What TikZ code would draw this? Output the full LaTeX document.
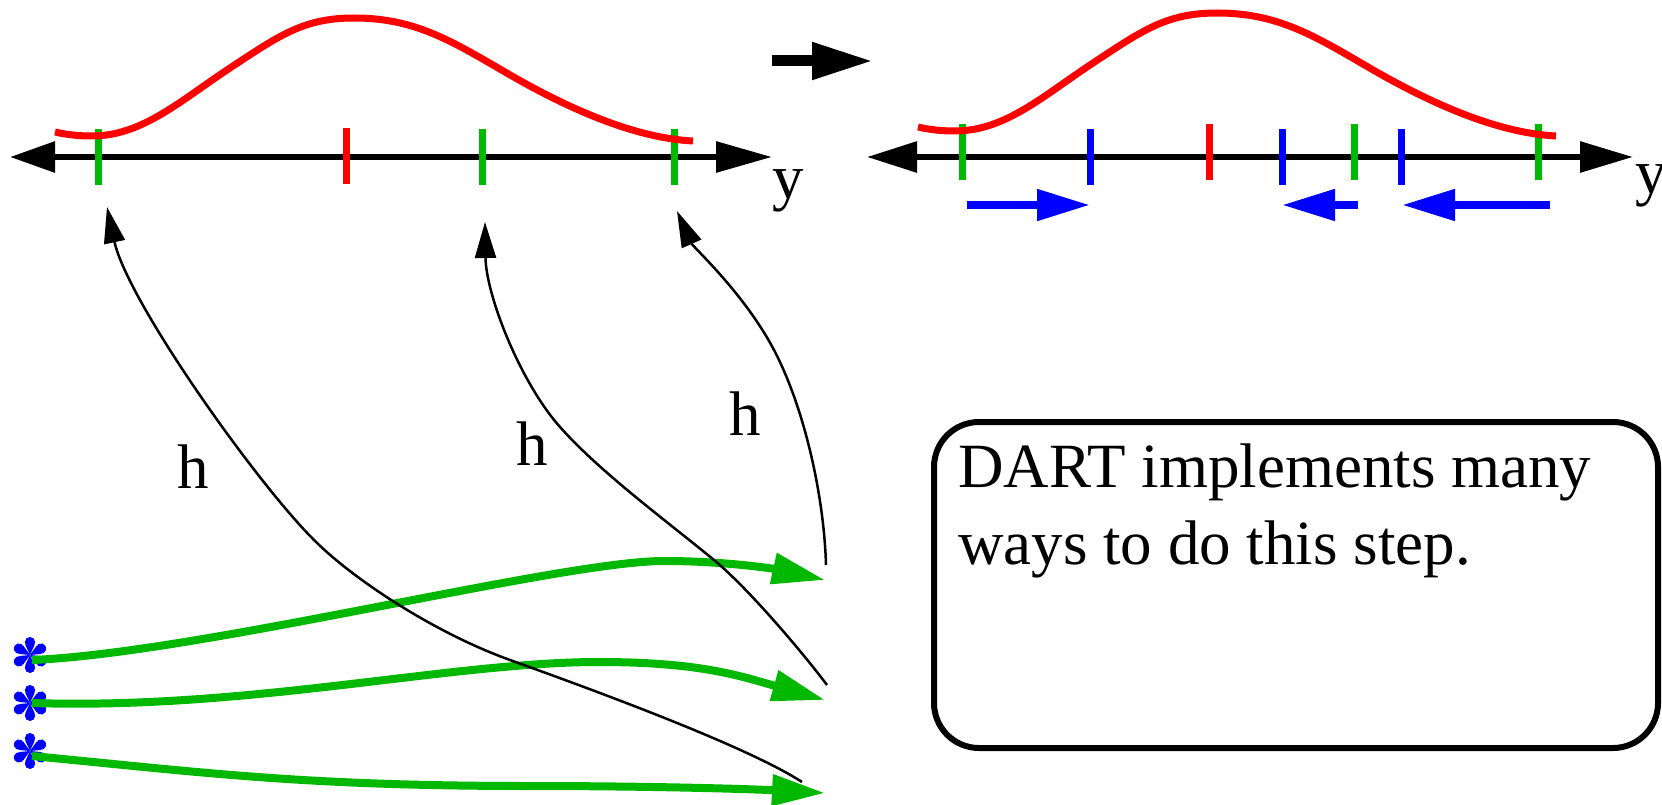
\documentclass[tikz,border=0pt]{standalone}
\usepackage{fontspec}
\setmainfont{Liberation Serif}
\usetikzlibrary{arrows.meta}
\definecolor{fgreen}{RGB}{0,184,0}
\definecolor{fred}{RGB}{255,0,0}
\definecolor{fblue}{RGB}{0,0,255}
\begin{document}
\begin{tikzpicture}[x=1pt,y=-1pt,
  axisline/.style={line width=6pt},
  tickmark/.style={line width=7pt},
  density/.style={fred, line width=7pt},
  ens/.style={fgreen, line width=8pt, -{Triangle[length=53pt,width=30pt]}},
  hmap/.style={line width=2.5pt, -{Triangle[length=36pt,width=21pt]}},
  incr/.style={fblue, line width=8pt, -{Triangle[length=53pt,width=30pt]}},
  lbl/.style={font=\fontsize{63}{77}\selectfont, inner sep=0pt, anchor=base west},
]
\useasboundingbox (0,0) rectangle (1662,805);

% ---------- left panel ----------
\coordinate (LA) at (10,157);
\coordinate (LB) at (772,157);
\draw[axisline, {Triangle[length=45pt,width=30pt]}-{Triangle[length=56pt,width=30pt]}] (LA) -- (LB);
\foreach \x in {98,482,674} \draw[tickmark, fgreen] (\x,129) -- (\x,185);
\draw[tickmark, fred] (346,128) -- (346,184);
\draw[density] (55,132) .. controls (68,135) and (80,136) .. (92,136)
  .. controls (142,136) and (180,101) .. (230,68)
  .. controls (280,35) and (304,18) .. (354,18)
  .. controls (414,18) and (450,40) .. (505,72)
  .. controls (565,107) and (633,138) .. (693,141);
\node[lbl] (yl) at (772,199) {y};

% ---------- step arrow ----------
\coordinate (SA) at (772,61);
\coordinate (SB) at (873,61);
\draw[line width=11pt, -{Triangle[length=61pt,width=35pt]}] (SA) -- (SB);

% ---------- right panel ----------
\coordinate (RA) at (867,157);
\coordinate (RB) at (1633,157);
\draw[axisline, {Triangle[length=50pt,width=30pt]}-{Triangle[length=53pt,width=30pt]}] (RA) -- (RB);
\foreach \x in {962,1354,1538} \draw[tickmark, fgreen] (\x,124) -- (\x,180);
\draw[tickmark, fred] (1209,124) -- (1209,180);
\foreach \x in {1090,1282,1401} \draw[tickmark, fblue] (\x,129) -- (\x,185);
\begin{scope}[shift={(863,-5)}]
\draw[density] (55,132) .. controls (68,135) and (80,136) .. (92,136)
  .. controls (142,136) and (180,101) .. (230,68)
  .. controls (280,35) and (304,18) .. (354,18)
  .. controls (414,18) and (450,40) .. (505,72)
  .. controls (565,107) and (633,138) .. (693,141);
\end{scope}
\node[lbl] (yr) at (1635,194) {y};

\coordinate (b1s) at (967,205);  \coordinate (b1e) at (1090,205);
\coordinate (b2s) at (1358,205); \coordinate (b2e) at (1282,205);
\coordinate (b3s) at (1550,205); \coordinate (b3e) at (1402,205);
\draw[incr] (b1s) -- (b1e);
\draw[incr] (b2s) -- (b2e);
\draw[incr] (b3s) -- (b3e);

% ---------- ensemble members ----------
\coordinate (s1) at (30,655);
\coordinate (s2) at (30,703);
\coordinate (s3) at (30,751);
\foreach \c in {s1,s2,s3} {
  \foreach \a in {90,30,-30,-90,-150,150} {
    \fill[fblue, shift={(\c)}, rotate=\a] (0,0) -- (10.5,4.8) -- (10.5,-4.8) -- cycle (12.8,0) circle[radius=5.2pt];
  }
}
\coordinate (g1s) at (32,660); \coordinate (g1e) at (825,580);
\coordinate (g2s) at (32,703); \coordinate (g2e) at (825,700);
\coordinate (g3s) at (32,756); \coordinate (g3e) at (825,793);
\draw[ens] (g1s) .. controls (200,653) and (560,561) .. (664,561)
  .. controls (730,561) and (780,570) .. (g1e);
\draw[ens] (g2s) .. controls (250,710) and (450,662) .. (599,662)
  .. controls (700,662) and (740,676) .. (g2e);
\draw[ens] (g3s) .. controls (200,772) and (300,786) .. (530,786)
  .. controls (650,786) and (750,789) .. (g3e);

% ---------- forward operator h ----------
\coordinate (h1s) at (802,782); \coordinate (h1e) at (107,207);
\coordinate (h2s) at (827,685); \coordinate (h2e) at (485,222);
\coordinate (h3s) at (826,565); \coordinate (h3e) at (677,211);
\draw[hmap] (h1s) .. controls (745,745) and (585,687) .. (510,660)
  .. controls (435,633) and (354,580) .. (314,540)
  .. controls (254,480) and (127,300) .. (h1e);
\draw[hmap] (h2s) .. controls (803,653) and (749,589) .. (714,560)
  .. controls (664,519) and (600,472) .. (560,427)
  .. controls (520,382) and (486,295) .. (h2e);
\draw[hmap] (h3s) .. controls (824,495) and (804,407) .. (774,350)
  .. controls (744,293) and (693,247) .. (h3e);
\node[lbl] (hA) at (177,488) {h};
\node[lbl] (hB) at (516,465) {h};
\node[lbl] (hC) at (729,435) {h};

% ---------- note box ----------
\node (box) [draw, line width=6pt, rounded corners=45pt, minimum width=724pt, minimum height=326pt, inner sep=0pt] at (1296,585) {};
\node[lbl] (t1) at (958,487) {DART implements many};
\node[lbl] (t2) at (958,564) {ways to do this step.};
\end{tikzpicture}
\end{document}
